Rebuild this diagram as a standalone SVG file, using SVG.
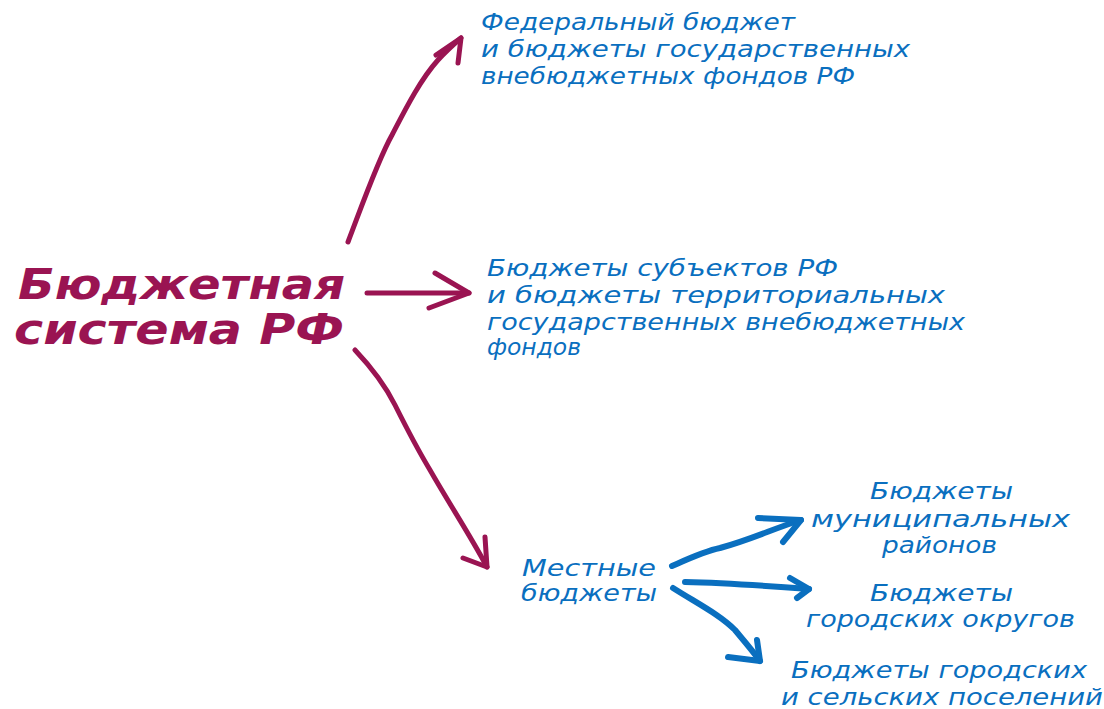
<svg xmlns="http://www.w3.org/2000/svg" width="1104" height="709" viewBox="0 0 1104 709">
<style>
.t{font-family:"DejaVu Sans","Liberation Sans",sans-serif;font-style:italic;}
.title{font-size:42px;fill:#9a1452;font-weight:bold;}
.b{font-size:23px;fill:#0a6fbf;}
.m{fill:none;stroke:#9a1452;stroke-width:5;stroke-linecap:round;stroke-linejoin:round;}
.bl{fill:none;stroke:#0a6fbf;stroke-width:6;stroke-linecap:round;stroke-linejoin:round;}
</style>
<rect width="1104" height="709" fill="#fff"/>
<g id="root">
<text class="t title" x="18" y="299" textLength="327" lengthAdjust="spacingAndGlyphs">Бюджетная</text>
<text class="t title" x="14" y="344" textLength="330" lengthAdjust="spacingAndGlyphs">система РФ</text>
</g>
<g id="federal">
<text class="t b" x="481" y="30" textLength="314" lengthAdjust="spacingAndGlyphs">Федеральный бюджет</text>
<text class="t b" x="481" y="57" textLength="429" lengthAdjust="spacingAndGlyphs">и бюджеты государственных</text>
<text class="t b" x="481" y="84" textLength="374" lengthAdjust="spacingAndGlyphs">внебюджетных фондов РФ</text>
</g>
<g id="subjects">
<text class="t b" x="487" y="276" textLength="351" lengthAdjust="spacingAndGlyphs">Бюджеты субъектов РФ</text>
<text class="t b" x="487" y="303" textLength="458" lengthAdjust="spacingAndGlyphs">и бюджеты территориальных</text>
<text class="t b" x="487" y="330" textLength="478" lengthAdjust="spacingAndGlyphs">государственных внебюджетных</text>
<text class="t b" x="487" y="355" textLength="94" lengthAdjust="spacingAndGlyphs">фондов</text>
</g>
<g id="local">
<text class="t b" x="522" y="576" textLength="134" lengthAdjust="spacingAndGlyphs">Местные</text>
<text class="t b" x="521" y="601" textLength="136" lengthAdjust="spacingAndGlyphs">бюджеты</text>
</g>
<g id="municipal">
<text class="t b" x="870" y="499" textLength="143" lengthAdjust="spacingAndGlyphs">Бюджеты</text>
<text class="t b" x="811" y="527" textLength="259" lengthAdjust="spacingAndGlyphs">муниципальных</text>
<text class="t b" x="882" y="553" textLength="115" lengthAdjust="spacingAndGlyphs">районов</text>
</g>
<g id="urban">
<text class="t b" x="870" y="601" textLength="143" lengthAdjust="spacingAndGlyphs">Бюджеты</text>
<text class="t b" x="806" y="627" textLength="269" lengthAdjust="spacingAndGlyphs">городских округов</text>
</g>
<g id="settlements">
<text class="t b" x="791" y="678" textLength="296" lengthAdjust="spacingAndGlyphs">Бюджеты городских</text>
<text class="t b" x="781" y="705" textLength="322" lengthAdjust="spacingAndGlyphs">и сельских поселений</text>
</g>
<g id="connectors">
<path class="m" d="M348,242 C364,200 378,160 392,135 C405,110 420,80 438,60 C447,50 454,44 461,38"/>
<path class="m" d="M436,55 L461,38 L458,63"/>
<path class="m" d="M367,293 L469,293"/>
<path class="m" d="M435,273 L469,293 L429,308"/>
<path class="m" d="M355,350 C372,368 385,385 395,405 C405,425 415,445 430,470 C450,505 470,535 487,567"/>
<path class="m" d="M463,558 L487,567 L485,537"/>
<path class="bl" d="M672,566 C690,558 705,551 720,548 C750,540 775,528 801,520"/>
<path class="bl" d="M758,518 L801,520 L783,542"/>
<path class="bl" d="M685,582 C730,583 770,586 809,589"/>
<path class="bl" d="M790,578 L809,589 L797,598"/>
<path class="bl" d="M673,588 C700,605 720,615 735,630 C745,642 752,650 760,661"/>
<path class="bl" d="M728,657 L760,661 L757,640"/>
</g>
</svg>
